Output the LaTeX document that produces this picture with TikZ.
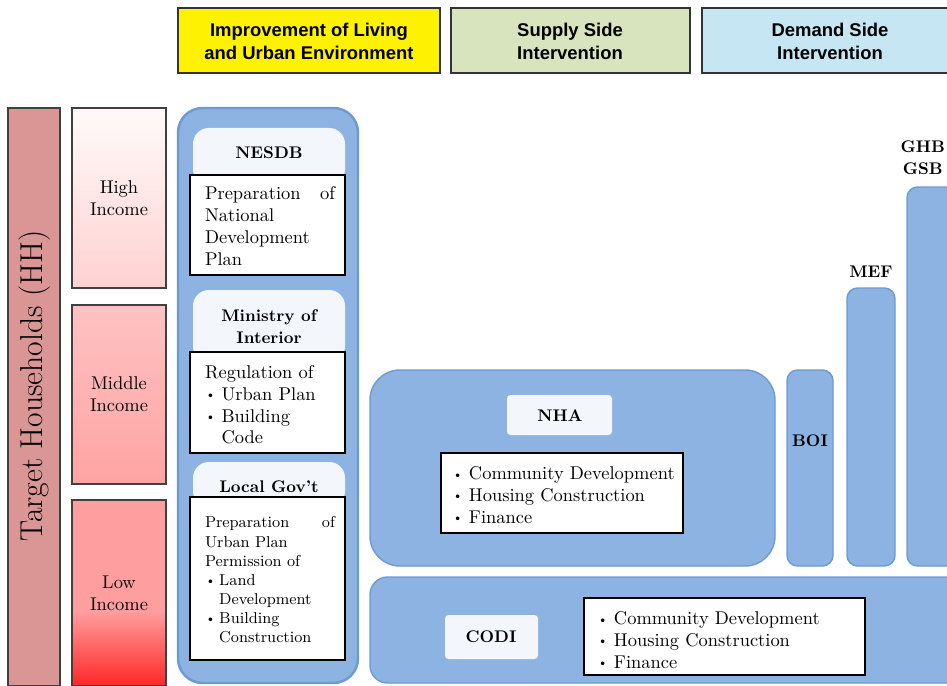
\documentclass[tikz,border=0pt]{standalone}
\usepackage{fontspec}
\newfontfamily\hdfont{Liberation Sans}
\usetikzlibrary{calc}
\definecolor{orgblue}{HTML}{8DB3E2}
\definecolor{orgline}{HTML}{6E9AD0}
\definecolor{hdyellow}{HTML}{FFF200}
\definecolor{hdgreen}{HTML}{D7E4BD}
\definecolor{hdcyan}{HTML}{C6E6F4}
\definecolor{hhpink}{HTML}{D99694}
\definecolor{lblwhite}{HTML}{F3F7FC}
\newcommand{\itm}{\makebox[0.9em][l]{\raisebox{0.2ex}{\scriptsize\textbullet}}}

\begin{document}
\begin{tikzpicture}[x=0.02cm,y=-0.02cm,
	hdbox/.style={draw=black!80,line width=0.9pt},
	hdtext/.style={font=\hdfont\bfseries\fontsize{10.5}{13}\selectfont,align=center},
	incbox/.style={draw=black!75,line width=0.8pt},
	org/.style={draw=orgline,fill=orgblue,line width=0.8pt},
	lbl/.style={fill=lblwhite,rounded corners=4pt},
	txtbox/.style={draw=black,fill=white,line width=0.8pt},
	body/.style={font=\fontsize{10.5}{12.4}\selectfont,align=left,inner sep=0pt},
	bodysm/.style={font=\fontsize{9}{10.9}\selectfont,align=left,inner sep=0pt},
	orgname/.style={font=\bfseries\fontsize{9.6}{12.4}\selectfont,align=center}]
		\useasboundingbox (0,0) rectangle (947,686);
		\clip (0,0) rectangle (947,686);
		%headers
		\draw[hdbox,fill=hdyellow] (178,8) rectangle (440,73);
		\draw[hdbox,fill=hdgreen] (451,8) rectangle (690,73);
		\draw[hdbox,fill=hdcyan] (702,8) rectangle (960,73);
		\node[hdtext] (impr) at (309,41) {Improvement of Living\\and Urban Environment};
		\node[hdtext] (supply) at (570,41) {Supply Side\\Intervention};
		\node[hdtext] (demand) at (830,41) {Demand Side\\Intervention};
		
		%target households
		\draw[incbox,fill=hhpink] (8,108) rectangle (60,686);
		\node[rotate=90,font=\fontsize{18}{21}\selectfont] (hh) at (35,386) {Target Households (HH)};
		\draw[incbox,top color=red!2,bottom color=red!18] (72,108) rectangle (166,288);
		\draw[incbox,top color=red!24,bottom color=red!36] (72,305) rectangle (166,484);
		\fill[red!38] (72,500) rectangle (166,612);
		\shade[top color=red!38,bottom color=red!85] (72,611) rectangle (166,686);
		\draw[incbox] (72,500) rectangle (166,686);
		\node[body,align=center] (high) at (119,198) {High\\Income};
		\node[body,align=center] (middle) at (119,394) {Middle\\Income};
		\node[body,align=center] (low) at (119,593) {Low\\Income};
		
		%living and urban environment
		\draw[org,line width=1.4pt,rounded corners=14pt] (178,108) rectangle (358,683);
		\fill[lbl,rounded corners=9pt] (193,128) rectangle (345,185);
		\fill[lbl,rounded corners=9pt] (193,290) rectangle (345,362);
		\fill[lbl,rounded corners=9pt] (193,462) rectangle (345,507);
		\draw[txtbox] (190,175) rectangle (345,275);
		\draw[txtbox] (190,352) rectangle (345,453);
		\draw[txtbox] (190,497) rectangle (345,660);
		\node[orgname] (nesdb) at (269,153) {NESDB};
		\node[orgname] (moi) at (269,327) {Ministry of\\Interior};
		\node[orgname] (lgov) at (269,487) {Local Gov't};
		\node[body,text width=2.6cm] (nesdbtxt) at (270,226) {\makebox[\linewidth][s]{Preparation\hfill of}\\National\\Development\\Plan};
		\node[body,text width=2.6cm] (moitxt) at (270,405) {Regulation of\\\itm Urban Plan\\\itm Building\\\hspace*{0.9em}Code};
		\node[bodysm,text width=2.6cm] (lgovtxt) at (270,580) {\makebox[\linewidth][s]{Preparation\hfill of}\\Urban Plan\\Permission of\\\itm Land\\\hspace*{0.9em}Development\\\itm Building\\\hspace*{0.9em}Construction};
		
		%supply side
		\draw[org,rounded corners=17pt] (370,370) rectangle (775,566);
		\fill[lbl,rounded corners=2pt] (507,395) rectangle (612,435);
		\node[orgname] (nha) at (560,416) {NHA};
		\draw[txtbox] (441,453) rectangle (683,533);
		\node[body,anchor=west] (nhatxt) at (452,495) {\itm Community Development\\\itm Housing Construction\\\itm Finance};
		\draw[org,rounded corners=10pt] (370,577) rectangle (980,683);
		\fill[lbl,rounded corners=2pt] (445,615) rectangle (538,659);
		\node[orgname] (codi) at (491,637) {CODI};
		\draw[txtbox] (584,598) rectangle (865,675);
		\node[body,anchor=west] (coditxt) at (597,640) {\itm Community Development\\\itm Housing Construction\\\itm Finance};
		
		%demand side
		\draw[org,rounded corners=6pt] (787,370) rectangle (833,566);
		\draw[org,rounded corners=6pt] (847,288) rectangle (895,566);
		\draw[org,rounded corners=6pt] (907,187) rectangle (980,566);
		\node[orgname] (boi) at (810,441) {BOI};
		\node[orgname] (mef) at (871,272) {MEF};
		\node[orgname,anchor=east,inner sep=1pt] (ghb) at (947,158) {GHB\\GSB};
\end{tikzpicture}
\end{document}
